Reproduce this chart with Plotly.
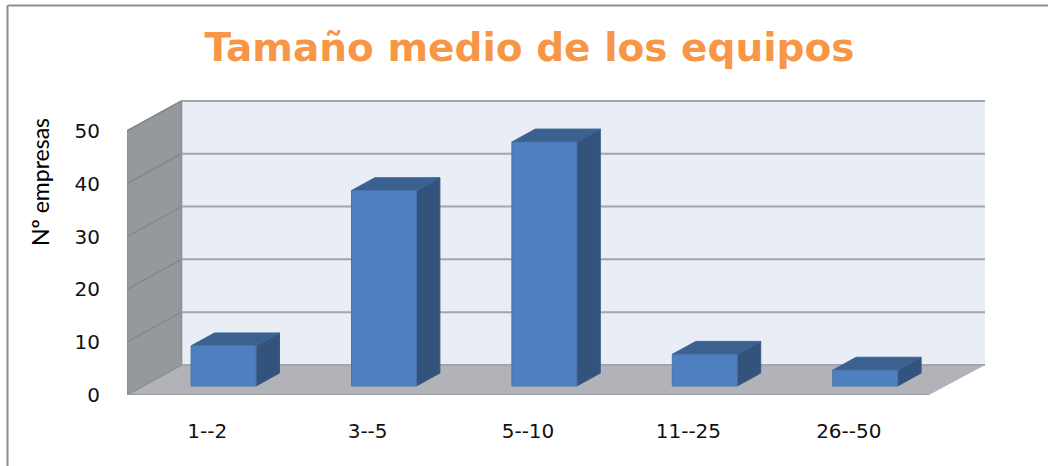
import plotly.graph_objects as go

categories = ["1--2", "3--5", "5--10", "11--25", "26--50"]
values = [7.6, 37, 46.2, 6, 3]
y_ticks = [0, 10, 20, 30, 40, 50]

# Oblique projection of the 3D look, in axis units
DEPTH_X = 0.34    # slots of x shift over the full floor depth
DEPTH_Y = 5.68    # value units of y shift over the full floor depth
BAR_NEAR = 0.30   # bar front, as a fraction of floor depth
BAR_FAR = 0.73    # bar back
BAR_W = 0.405
N = len(categories)
X_MAX = 5.349
Y_MAX = 56.8
Y_TOP = y_ticks[-1]


def proj(x, v, d=0.0):
    return x + d * DEPTH_X, v + d * DEPTH_Y


def poly(points, fill, line=None, width=0):
    xs = [p[0] for p in points] + [points[0][0]]
    ys = [p[1] for p in points] + [points[0][1]]
    return go.Scatter(
        x=xs, y=ys, mode="lines", fill="toself", fillcolor=fill,
        line=dict(color=line or fill, width=width), hoverinfo="skip", showlegend=False,
    )


fig = go.Figure()

# Walls and floor
fig.add_trace(poly([proj(0, 0, 1), (X_MAX, DEPTH_Y), (X_MAX, Y_TOP + DEPTH_Y), proj(0, Y_TOP, 1)], "#e9edf6"))
fig.add_trace(poly([proj(0, 0, 0), proj(N, 0, 0), (X_MAX, DEPTH_Y), proj(0, 0, 1)], "#b1b3b8"))
fig.add_trace(poly([proj(0, 0, 0), proj(0, Y_TOP, 0), proj(0, Y_TOP, 1), proj(0, 0, 1)], "#95989d", "#8d9095", 1.5))

# Gridlines on the left wall and on the back wall
for v in y_ticks:
    x0, y0 = proj(0, v, 0)
    x1, y1 = proj(0, v, 1)
    if v > 0:
        fig.add_trace(go.Scatter(x=[x0, x1], y=[y0, y1], mode="lines",
                                 line=dict(color="#85888d", width=1.5),
                                 hoverinfo="skip", showlegend=False))
    fig.add_trace(go.Scatter(x=[x1, X_MAX], y=[y1, y1], mode="lines",
                             line=dict(color="#a3a5aa", width=2),
                             hoverinfo="skip", showlegend=False))

# Front edge of the floor
fig.add_trace(go.Scatter(x=[0, N], y=[0, 0], mode="lines",
                         line=dict(color="#97999d", width=2),
                         hoverinfo="skip", showlegend=False))

# Bars: side, top and front faces
for i, v in enumerate(values):
    xl = i + 0.5 - BAR_W / 2
    xr = i + 0.5 + BAR_W / 2
    fig.add_trace(poly([proj(xr, 0, BAR_NEAR), proj(xr, 0, BAR_FAR), proj(xr, v, BAR_FAR), proj(xr, v, BAR_NEAR)],
                       "#33537c", "#3a5a84", 1))
    fig.add_trace(poly([proj(xl, v, BAR_NEAR), proj(xr, v, BAR_NEAR), proj(xr, v, BAR_FAR), proj(xl, v, BAR_FAR)],
                       "#3a6190", "#3f6695", 1))
    fig.add_trace(poly([proj(xl, 0, BAR_NEAR), proj(xr, 0, BAR_NEAR), proj(xr, v, BAR_NEAR), proj(xl, v, BAR_NEAR)],
                       "#4e80bf", "#4674ad", 1))

fig.update_layout(
    width=1048, height=466,
    margin=dict(l=127, r=63, t=95, b=71, autoexpand=False),
    paper_bgcolor="#ffffff", plot_bgcolor="#ffffff",
    showlegend=False,
    title=dict(
        text="Tamaño medio de los equipos",
        font=dict(family="DejaVu Sans", size=39, color="#f79646", weight="bold"),
        x=529.5 / 1048, xanchor="center", xref="container",
        y=1 - 47 / 466, yanchor="middle", yref="container",
    ),
    xaxis=dict(
        range=[0, X_MAX], tickmode="array",
        tickvals=[i + 0.5 for i in range(N)], ticktext=categories,
        showgrid=False, zeroline=False, showline=False, ticks="",
        ticklabelstandoff=22,
        tickfont=dict(family="DejaVu Sans", size=20, color="#111111"),
    ),
    yaxis=dict(
        range=[0, Y_MAX], tickmode="array", tickvals=y_ticks,
        showgrid=False, zeroline=False, showline=False, ticks="",
        ticklabelstandoff=26,
        tickfont=dict(family="DejaVu Sans", size=20, color="#111111"),
    ),
    annotations=[dict(
        text="Nº empresas", textangle=-90, showarrow=False,
        xref="paper", yref="paper", xanchor="center", yanchor="middle",
        x=(40 - 127) / 858, y=(395 - 182) / 300,
        font=dict(family="Lato", size=23, color="#000000"),
    )],
    shapes=[
        dict(type="line", xref="paper", yref="paper", layer="below",
             x0=(7.5 - 127) / 858, x1=(1048 - 127) / 858,
             y0=(395 - 5.5) / 300, y1=(395 - 5.5) / 300,
             line=dict(color="#8e8e8e", width=2)),
        dict(type="line", xref="paper", yref="paper", layer="below",
             x0=(7.5 - 127) / 858, x1=(7.5 - 127) / 858,
             y0=(395 - 5.5) / 300, y1=(395 - 466) / 300,
             line=dict(color="#8e8e8e", width=2)),
    ],
)

fig.write_html(
    "out.html",
    config={"displayModeBar": False},
    post_script="document.body.style.margin='0';document.documentElement.style.overflow='hidden';",
)
